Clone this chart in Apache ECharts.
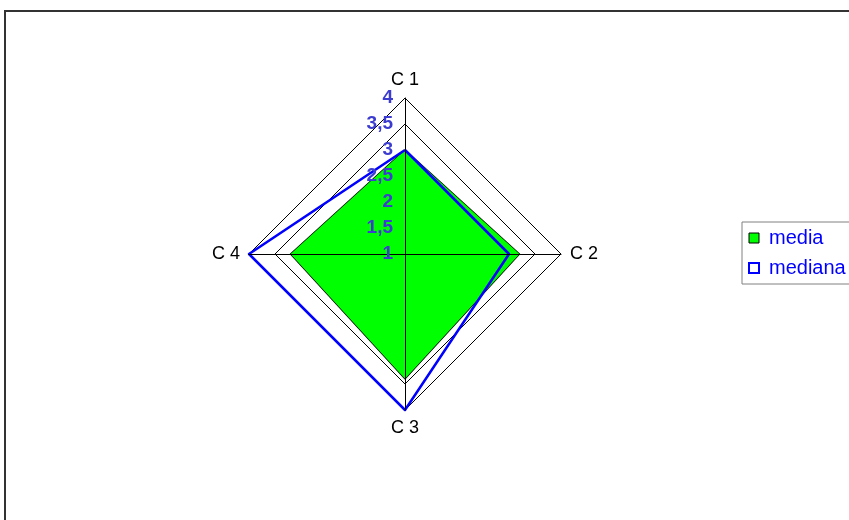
<!DOCTYPE html>
<html>
<head>
<meta charset="utf-8">
<script src="https://cdn.jsdelivr.net/npm/echarts@6/dist/echarts.min.js"></script>
<style>
html,body{margin:0;padding:0;background:#fff;}
#chart{width:849px;height:520px;}
</style>
</head>
<body>
<div id="chart"></div>
<script>
// Data
const categories = ['C 1', 'C 2', 'C 3', 'C 4'];
const mediaValues = [3.0, 3.2, 3.4, 3.2];
const medianaValues = [3, 3, 4, 4];
const seriesNames = ['media', 'mediana'];
const axisMin = 1;
const axisMax = 4;

// ECharts places indicators counter-clockwise; reorder so C 2 sits on the right
const order = [0, 3, 2, 1];
const indicators = order.map(i => ({ name: categories[i], min: axisMin, max: axisMax }));
const reorder = arr => order.map(i => arr[i]);

const chart = echarts.init(document.getElementById('chart'));
const fmt = v => String(v).replace('.', ',');

const center = [405, 254];
const radius = 156;
const GREEN = '#00ff00';

chart.setOption({
  animation: false,
  backgroundColor: '#ffffff',
  graphic: [{
    type: 'rect',
    shape: { x: 5, y: 11, width: 1000, height: 800 },
    style: { fill: 'none', stroke: '#333333', lineWidth: 2 },
    silent: true, z: 100
  }],
  legend: {
    orient: 'vertical',
    left: 742, top: 222,
    padding: [6, 30, 6, 6],
    itemWidth: 10, itemHeight: 10,
    itemGap: 10,
    borderColor: '#808080', borderWidth: 1,
    icon: 'rect',
    textStyle: { color: '#0000ff', fontSize: 20, fontFamily: 'Liberation Sans', padding: [0, 0, 0, 5] },
    data: [
      { name: seriesNames[0], itemStyle: { color: GREEN, borderColor: '#000', borderWidth: 1 } },
      { name: seriesNames[1], itemStyle: { color: '#ffffff', borderColor: '#0000ff', borderWidth: 2 } }
    ]
  },
  radar: [{
    center: center, radius: radius, startAngle: 90,
    shape: 'polygon', splitNumber: 6,
    indicator: indicators,
    axisName: { color: '#000', fontSize: 18, fontFamily: 'Liberation Sans' },
    nameGap: 9,
    axisLine: { show: false },
    axisTick: { show: false },
    axisLabel: { show: false },
    splitLine: { lineStyle: { color: '#000', width: 1 } },
    splitArea: { show: false },
    z: 0
  }, {
    center: center, radius: radius, startAngle: 90,
    shape: 'polygon', splitNumber: 6,
    indicator: indicators.map((ind, k) => ({
      name: '', min: ind.min, max: ind.max,
      axisLabel: { show: k === 0 }
    })),
    axisName: { show: false },
    axisLine: { show: true, lineStyle: { color: '#000', width: 1 } },
    axisTick: { show: false },
    axisLabel: {
      show: true, margin: 12, color: '#3c3cd0', fontWeight: 'bold',
      fontSize: 19, fontFamily: 'Liberation Sans', formatter: fmt,
      showMinLabel: true, showMaxLabel: true
    },
    splitLine: { show: false },
    splitArea: { show: false },
    z: 5
  }],
  series: [{
    type: 'radar',
    radarIndex: 0,
    symbol: 'none',
    z: 2,
    lineStyle: { color: '#000000', width: 1.5 },
    data: [
      {
        name: seriesNames[0], value: reorder(mediaValues),
        lineStyle: { color: '#000000', width: 1.5, opacity: 1 },
        itemStyle: { color: GREEN, borderColor: '#000' },
        areaStyle: { color: GREEN, opacity: 1 }
      },
      {
        name: seriesNames[1], value: reorder(medianaValues),
        lineStyle: { color: '#0000ff', width: 2.5 },
        itemStyle: { color: '#0000ff' }
      }
    ]
  }]
});
</script>
</body>
</html>
